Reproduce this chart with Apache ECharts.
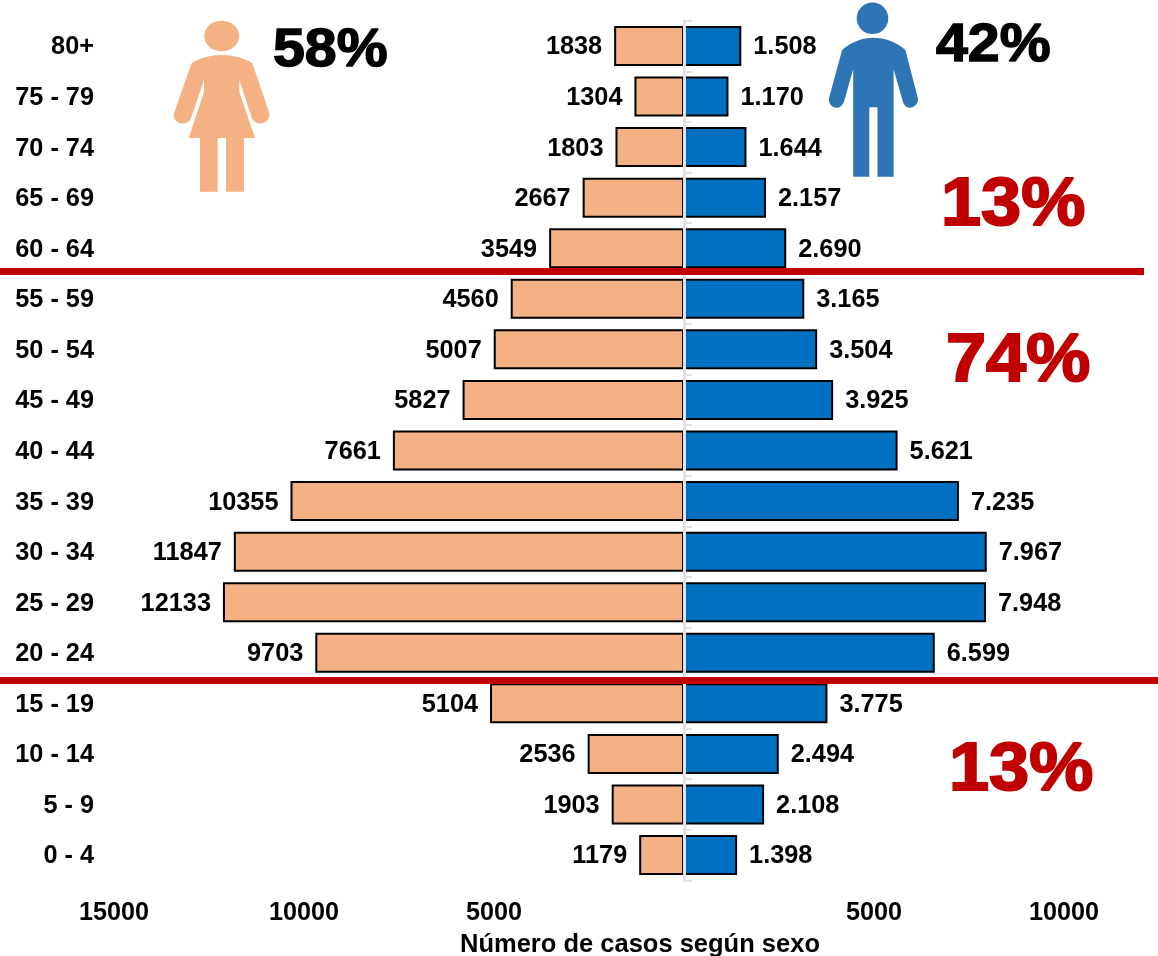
<!DOCTYPE html>
<html><head><meta charset="utf-8">
<style>html,body{margin:0;padding:0;background:#fff}#c{width:1158px;height:956px}</style>
<script src="https://cdn.jsdelivr.net/npm/echarts@6/dist/echarts.min.js"></script>
</head><body><div id="c"></div>
<script>
const categories = ['80+','75 - 79','70 - 74','65 - 69','60 - 64','55 - 59','50 - 54','45 - 49','40 - 44','35 - 39','30 - 34','25 - 29','20 - 24','15 - 19','10 - 14','5 - 9','0 - 4'];
const mujeres = [1838,1304,1803,2667,3549,4560,5007,5827,7661,10355,11847,12133,9703,5104,2536,1903,1179];
const hombres = [1508,1170,1644,2157,2690,3165,3504,3925,5621,7235,7967,7948,6599,3775,2494,2108,1398];
const axisTitle = 'Número de casos según sexo';
const FONT = '"Liberation Sans", Arial, sans-serif';
const femalePath = 'M191.7 63 C200 58 210 55 221.7 55 C233 55 244 58 252.3 63 L269.3 113 C270.5 119 265 123.5 260.5 123.5 C256 123.5 253 121 251.5 117 L239.3 80 L239.3 92 L255 138 L244 138 L244 191.7 L226 191.7 L226 138 L217.7 138 L217.7 191.7 L200 191.7 L200 138 L188.7 138 L204 92 L204 80 L191 118 C189.5 121.5 186.5 123.5 182.5 123.5 C177 123.5 173 119 174 113 Z';
const malePath = 'M842.1 50 C850.7 42 862.5 37.7 873.2 37.7 C885 37.7 896.8 42 905.4 50 L917.9 98.3 C918.7 103.5 914 107.7 910 107.7 C906.5 107.7 903.7 105 902.9 101.7 L893.6 69.3 L893.6 176.7 L877.5 176.7 L877.5 107.3 L869.3 107.3 L869.3 176.7 L853.2 176.7 L853.2 69.3 L844 101.7 C842.7 105 840 107.7 836.5 107.7 C832 107.7 828.2 103.5 829 98.3 Z';
echarts.graphic.registerShape('femaleIcon', echarts.graphic.extendPath(femalePath, {}));
echarts.graphic.registerShape('maleIcon', echarts.graphic.extendPath(malePath, {}));
const bigText = (t, x, y, size, fill, lw) => ({type:'text', z:20, x, y, scaleX:1.06, style:{text:t, x:0, y:0, fill, stroke:fill, lineWidth:lw, lineJoin:'round', font:`bold ${size}px ${FONT}`, textAlign:'left', textVerticalAlign:'middle'}});
const chart = echarts.init(document.getElementById('c'), null, {renderer:'canvas'});
const lbl = {show:true, color:'#000', fontFamily:FONT, fontWeight:'bold', fontSize:25.3, distance:12, offset:[0,1.5]};
const dotted = v => { const s = String(Math.abs(v)); return s.length>3 ? s.slice(0,-3)+'.'+s.slice(-3) : s; };
chart.setOption({
  animation:false,
  backgroundColor:'#fff',
  grid:{left:114, right:94, top:20.7, bottom:75.7, outerBoundsMode:'none'},
  xAxis:{type:'value', min:-15000, max:10000, interval:5000, splitLine:{show:false}, axisLine:{show:false}, axisTick:{show:false},
    axisLabel:{margin:20, color:'#000', fontFamily:FONT, fontWeight:'bold', fontSize:25.2, formatter:v=>v===0?'':String(Math.abs(v))},
    name:axisTitle, nameLocation:'middle', nameGap:52,
    nameTextStyle:{color:'#000', fontFamily:FONT, fontWeight:'bold', fontSize:25.5, padding:[0,0,0,102]}},
  yAxis:[
    {type:'category', inverse:true, data:categories, position:'left', axisLine:{show:false, onZero:false}, axisTick:{show:false},
      axisLabel:{margin:20, formatter:v=>`{a|${v}}`, rich:{a:{color:'#000', fontFamily:FONT, fontWeight:'bold', fontSize:25.3, padding:[3,0,0,0]}}}},
    {type:'category', inverse:true, data:categories, position:'left', z:10, axisLine:{show:true, onZero:true, lineStyle:{color:'#e2e2e2', width:3}},
      axisTick:{show:true, inside:true, length:8, lineStyle:{color:'#e2e2e2', width:2}}, axisLabel:{show:false}}
  ],
  graphic:[
    {type:'ellipse', z:20, shape:{cx:221.7, cy:36, rx:17.5, ry:15.3}, style:{fill:'#F4B183'}},
    {type:'femaleIcon', z:20, style:{fill:'#F4B183'}},
    {type:'circle', z:20, shape:{cx:872.5, cy:18.3, r:15.8}, style:{fill:'#2E75B6'}},
    {type:'maleIcon', z:20, style:{fill:'#2E75B6'}},
    bigText('58%', 273, 51, 54, '#000', 1.5),
    bigText('42%', 936, 46, 54, '#000', 1.5),
    bigText('13%', 941, 206, 68, '#C00000', 2),
    bigText('74%', 946, 362, 68, '#C00000', 2),
    bigText('13%', 949, 771, 68, '#C00000', 2),
    {type:'rect', z:15, shape:{x:0, y:268, width:1144, height:7}, style:{fill:'#C00000'}},
    {type:'rect', z:15, shape:{x:0, y:677, width:1158, height:7}, style:{fill:'#C00000'}}
  ],
  series:[
    {name:'Mujeres', type:'bar', barWidth:40, barGap:'-100%', data:mujeres.map(v=>-v),
      itemStyle:{color:'#F4B183', borderColor:'#000', borderWidth:2},
      label:{...lbl, position:'left', formatter:p=>String(Math.abs(p.value))}},
    {name:'Hombres', type:'bar', barWidth:40, barGap:'-100%', data:hombres,
      itemStyle:{color:'#0070C0', borderColor:'#000', borderWidth:2},
      label:{...lbl, position:'right', formatter:p=>dotted(p.value)}}
  ]
});
</script></body></html>
